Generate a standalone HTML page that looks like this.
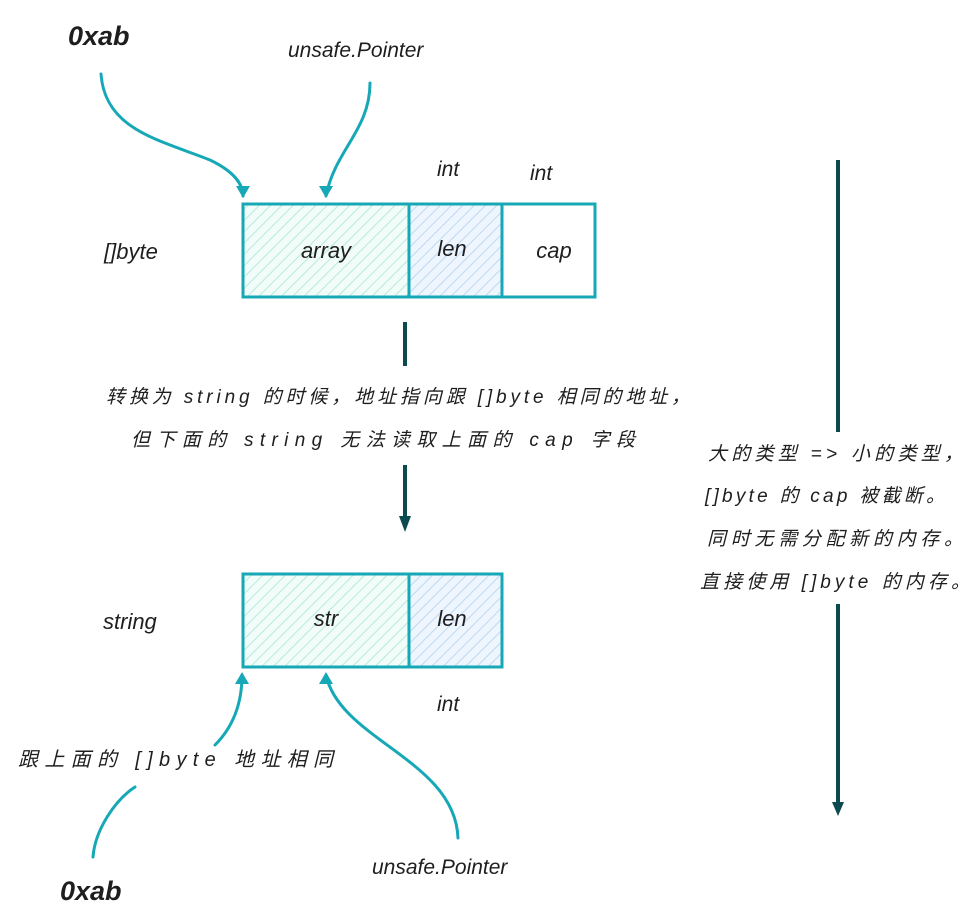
<!DOCTYPE html>
<html><head><meta charset="utf-8"><style>
html,body{margin:0;padding:0;background:#fff;}
svg{display:block}
text{font-family:"Liberation Sans","Noto Sans CJK SC",sans-serif;fill:#1e1e1e;font-style:italic}
</style></head><body>
<svg width="976" height="904" viewBox="0 0 976 904" xmlns="http://www.w3.org/2000/svg">
<defs>
<pattern id="hg" width="8" height="8" patternUnits="userSpaceOnUse" patternTransform="rotate(45)">
<rect width="8" height="8" fill="#f2fcf9"/><line x1="0" y1="0" x2="0" y2="8" stroke="#b8eadb" stroke-width="2"/></pattern>
<pattern id="hb" width="8" height="8" patternUnits="userSpaceOnUse" patternTransform="rotate(45)">
<rect width="8" height="8" fill="#eef5fd"/><line x1="0" y1="0" x2="0" y2="8" stroke="#bcd9f5" stroke-width="2"/></pattern>
</defs>
<g stroke="#16a8b6" stroke-width="3" fill="none" stroke-linecap="round">
<rect x="243" y="204" width="166" height="93" fill="url(#hg)"/>
<rect x="409" y="204" width="93" height="93" fill="url(#hb)"/>
<rect x="502" y="204" width="93" height="93" fill="#fff"/>
<rect x="243" y="574" width="166" height="93" fill="url(#hg)"/>
<rect x="409" y="574" width="93" height="93" fill="url(#hb)"/>
<path d="M101 74 C105 130 160 140 210 160 C235 172 243 185 243 196"/>
<path d="M370 83 C370 130 335 150 326 196"/>
<path d="M93 857 C95 830 115 800 135 787"/>
<path d="M215 745 C235 725 242 700 242 675"/>
<path d="M458 838 C455 760 340 740 326 675"/>
</g>
<g fill="#16a8b6">
<path d="M236 186 L250 186 L243 198 Z"/>
<path d="M319 186 L333 186 L326 198 Z"/>
<path d="M235 684 L249 684 L242 672 Z"/>
<path d="M319 684 L333 684 L326 672 Z"/>
</g>
<g stroke="#0b4a4f" stroke-width="4" fill="none">
<line x1="405" y1="322" x2="405" y2="366"/>
<line x1="405" y1="465" x2="405" y2="520"/>
<line x1="838" y1="160" x2="838" y2="432"/>
<line x1="838" y1="604" x2="838" y2="808"/>
</g>
<g fill="#0b4a4f">
<path d="M399 516 L411 516 L405 532 Z"/>
<path d="M832 802 L844 802 L838 816 Z"/>
</g>
<text x="68" y="45" font-size="27" font-weight="bold">0xab</text>
<text x="288" y="57" font-size="21">unsafe.Pointer</text>
<text x="437" y="176" font-size="21">int</text>
<text x="530" y="180" font-size="21">int</text>
<text x="104" y="259" font-size="22">[]byte</text>
<text x="326" y="258" font-size="22" text-anchor="middle">array</text>
<text x="452" y="256" font-size="22" text-anchor="middle">len</text>
<text x="554" y="258" font-size="22" text-anchor="middle">cap</text>
<text x="106" y="403" font-size="19" textLength="584" lengthAdjust="spacing">转换为 string 的时候，地址指向跟 []byte 相同的地址，</text>
<text x="131" y="446" font-size="19" textLength="504" lengthAdjust="spacing">但下面的 string 无法读取上面的 cap 字段</text>
<text x="708" y="460" font-size="19" textLength="255" lengthAdjust="spacing">大的类型 => 小的类型，</text>
<text x="705" y="502" font-size="19" textLength="240" lengthAdjust="spacing">[]byte 的 cap 被截断。</text>
<text x="707" y="545" font-size="19" textLength="256" lengthAdjust="spacing">同时无需分配新的内存。</text>
<text x="700" y="588" font-size="19" textLength="270" lengthAdjust="spacing">直接使用 []byte 的内存。</text>
<text x="103" y="629" font-size="22">string</text>
<text x="326" y="626" font-size="22" text-anchor="middle">str</text>
<text x="452" y="626" font-size="22" text-anchor="middle">len</text>
<text x="437" y="711" font-size="21">int</text>
<text x="18" y="766" font-size="20" textLength="315" lengthAdjust="spacing">跟上面的 []byte 地址相同</text>
<text x="372" y="874" font-size="21">unsafe.Pointer</text>
<text x="60" y="900" font-size="27" font-weight="bold">0xab</text>
</svg>
</body></html>
